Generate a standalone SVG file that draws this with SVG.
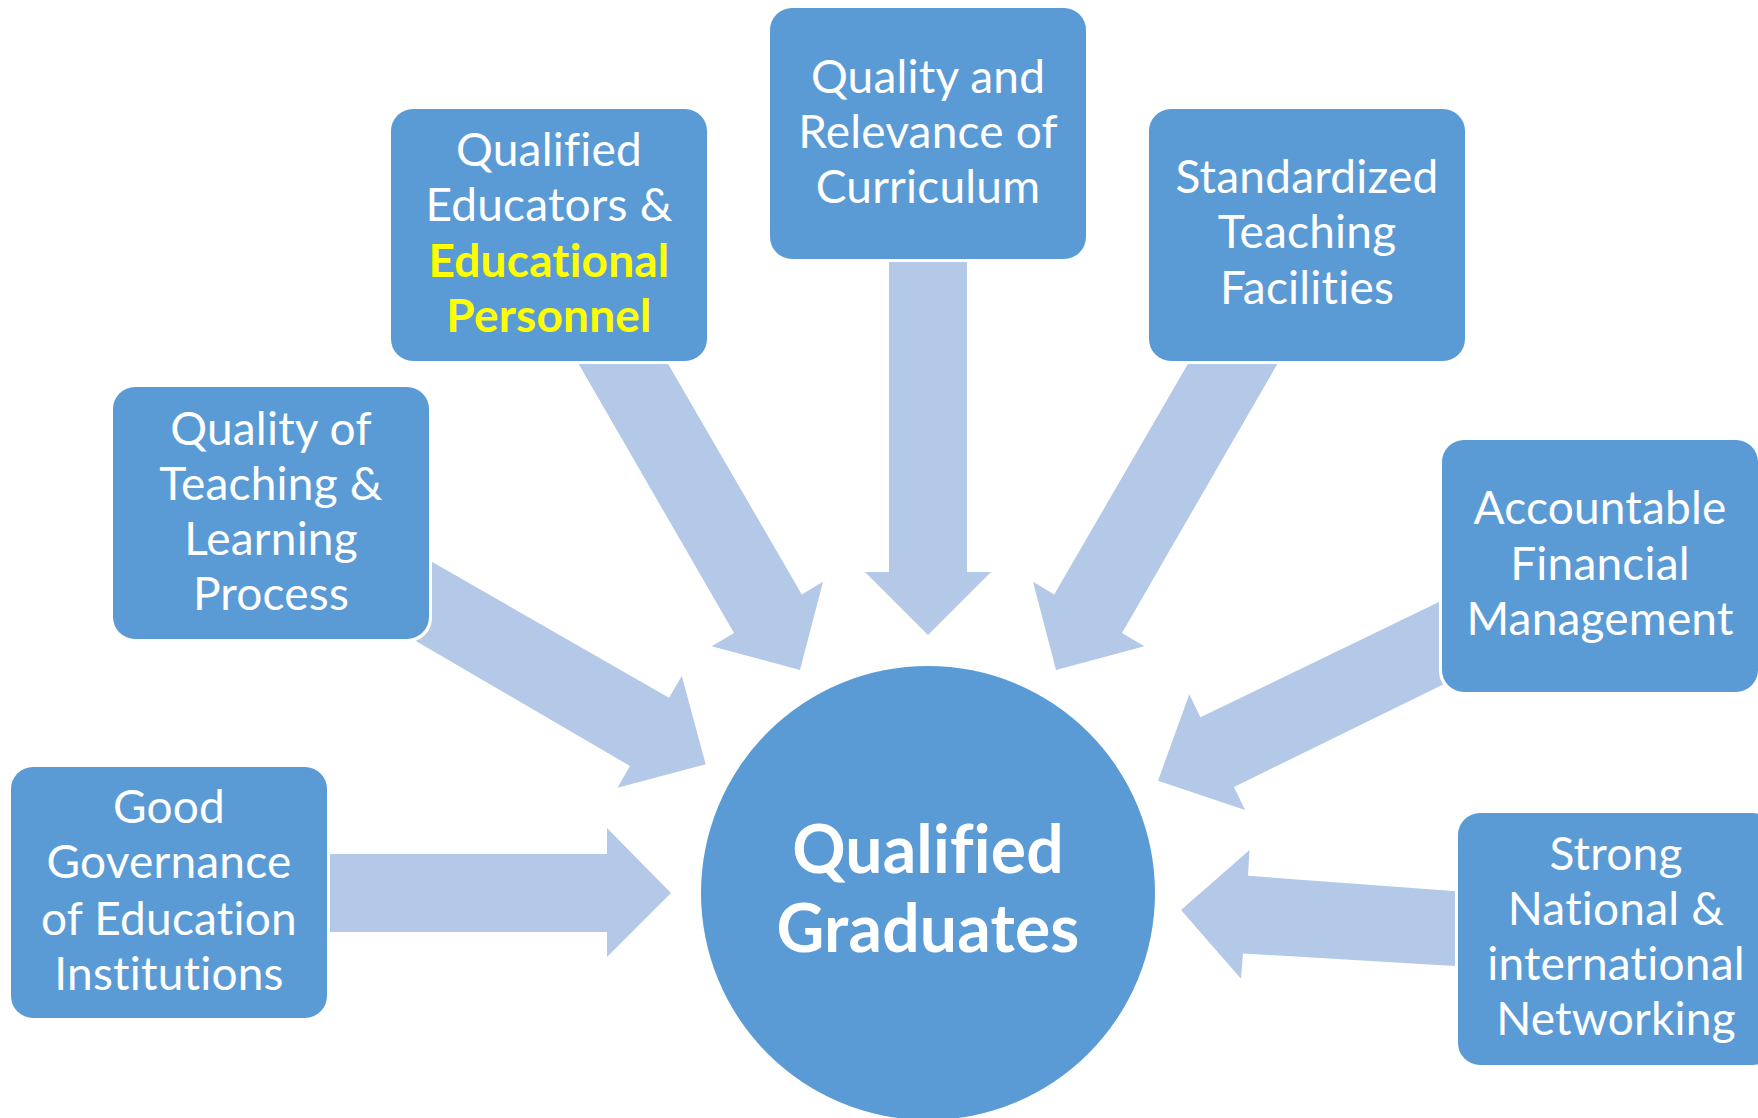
<svg xmlns="http://www.w3.org/2000/svg" width="1758" height="1118" viewBox="0 0 1758 1118">
<style>
.arrow{fill:#B4C9E7}
.gap{fill:#FFFFFF}
.box{fill:#5B9BD5}
text{font-variant-ligatures:none;font-feature-settings:"liga" 0,"clig" 0,"dlig" 0,"calt" 0;letter-spacing:0.2px}
.t{font-family:Lato,"Open Sans","Liberation Sans",sans-serif;font-size:46px;fill:#FFFFFF;text-anchor:middle}
.y{font-weight:bold;fill:#FFFF00}
.c{font-family:Lato,"Open Sans","Liberation Sans",sans-serif;font-size:66px;font-weight:bold;fill:#FFFFFF;text-anchor:middle}
</style>
<rect width="1758" height="1118" fill="#FFFFFF"/>
<g id="connectors">
<polygon class="arrow" points="300,854 607,854 607,828 671,893 607,957 607,932 300,932"/>
<polygon class="arrow" points="400,543.6 669,697.7 681.8,676 705.7,764.3 617.5,787.7 630,766 400,631.7"/>
<polygon class="arrow" points="564.8,340 734,633 711.6,646.2 800,670 823,581.7 801.8,594.4 654.2,340"/>
<polygon class="arrow" points="889,240 889,572 865,572 928,635 991,572 967,572 967,240"/>
<polygon class="arrow" points="1291.2,340 1122,633 1144.4,646.2 1056,670 1033,581.7 1054.2,594.4 1201.8,340"/>
<polygon class="arrow" points="1460,591.7 1200.4,717.3 1189.3,694.3 1158,780.8 1245,810 1234,787 1460,676.2"/>
<polygon class="arrow" points="1480,892.9 1248,875.8 1249.5,850 1181,910 1241,978.8 1243,953.4 1480,967.5"/>
</g>
<g id="center">
<circle class="box" cx="928" cy="893" r="227"/>
<text class="c" x="928" y="873">Qualified</text>
<text class="c" x="928" y="952">Graduates</text>
</g>
<g id="governance">
<rect class="gap" x="8" y="764" width="322" height="257" rx="24"/>
<rect class="box" x="11" y="767" width="316" height="251" rx="22"/>
<text class="t" x="169" y="823">Good</text>
<text class="t" x="169" y="878">Governance</text>
<text class="t" x="169" y="935">of Education</text>
<text class="t" x="169" y="990">Institutions</text>
</g>
<g id="teaching">
<rect class="gap" x="110" y="384" width="322" height="258" rx="24"/>
<rect class="box" x="113" y="387" width="316" height="252" rx="22"/>
<text class="t" x="271" y="445">Quality of</text>
<text class="t" x="271" y="500">Teaching &amp;</text>
<text class="t" x="271" y="555">Learning</text>
<text class="t" x="271" y="610">Process</text>
</g>
<g id="educators">
<rect class="gap" x="388" y="106" width="322" height="258" rx="24"/>
<rect class="box" x="391" y="109" width="316" height="252" rx="22"/>
<text class="t" x="549" y="166">Qualified</text>
<text class="t" x="549" y="221">Educators &amp;</text>
<text class="t y" x="549" y="277">Educational</text>
<text class="t y" x="549" y="332">Personnel</text>
</g>
<g id="curriculum">
<rect class="gap" x="767" y="5" width="322" height="257" rx="24"/>
<rect class="box" x="770" y="8" width="316" height="251" rx="22"/>
<text class="t" x="928" y="93">Quality and</text>
<text class="t" x="928" y="148">Relevance of</text>
<text class="t" x="928" y="203">Curriculum</text>
</g>
<g id="facilities">
<rect class="gap" x="1146" y="106" width="322" height="258" rx="24"/>
<rect class="box" x="1149" y="109" width="316" height="252" rx="22"/>
<text class="t" x="1307" y="193">Standardized</text>
<text class="t" x="1307" y="248">Teaching</text>
<text class="t" x="1307" y="304">Facilities</text>
</g>
<g id="financial">
<rect class="gap" x="1439" y="437" width="322" height="258" rx="24"/>
<rect class="box" x="1442" y="440" width="316" height="252" rx="22"/>
<text class="t" x="1600" y="524">Accountable</text>
<text class="t" x="1600" y="580">Financial</text>
<text class="t" x="1600" y="635">Management</text>
</g>
<g id="networking">
<rect class="gap" x="1455" y="810" width="322" height="258" rx="24"/>
<rect class="box" x="1458" y="813" width="316" height="252" rx="22"/>
<text class="t" x="1616" y="870">Strong</text>
<text class="t" x="1616" y="925">National &amp;</text>
<text class="t" x="1616" y="980">international</text>
<text class="t" x="1616" y="1035">Networking</text>
</g>
</svg>
